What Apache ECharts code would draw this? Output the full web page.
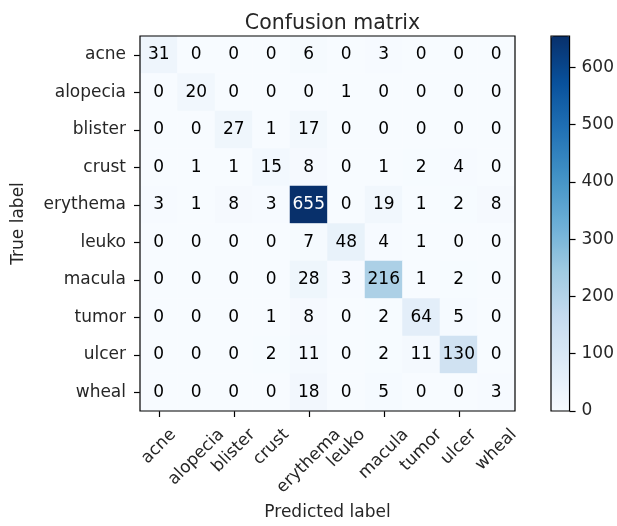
<!DOCTYPE html>
<html>
<head>
<meta charset="utf-8">
<script src="https://cdn.jsdelivr.net/npm/echarts@6/dist/echarts.min.js"></script>
<style>
  html, body { margin: 0; padding: 0; background: #fff; }
  #chart { width: 617px; height: 526px; }
</style>
</head>
<body>
<div id="chart"></div>
<script>
// Class names, shared by both axes
const labels = ['acne', 'alopecia', 'blister', 'crust', 'erythema', 'leuko', 'macula', 'tumor', 'ulcer', 'wheal'];

// One row per true label, one column per predicted label
const acne     = [31, 0, 0, 0, 6, 0, 3, 0, 0, 0];
const alopecia = [0, 20, 0, 0, 0, 1, 0, 0, 0, 0];
const blister  = [0, 0, 27, 1, 17, 0, 0, 0, 0, 0];
const crust    = [0, 1, 1, 15, 8, 0, 1, 2, 4, 0];
const erythema = [3, 1, 8, 3, 655, 0, 19, 1, 2, 8];
const leuko    = [0, 0, 0, 0, 7, 48, 4, 1, 0, 0];
const macula   = [0, 0, 0, 0, 28, 3, 216, 1, 2, 0];
const tumor    = [0, 0, 0, 1, 8, 0, 2, 64, 5, 0];
const ulcer    = [0, 0, 0, 2, 11, 0, 2, 11, 130, 0];
const wheal    = [0, 0, 0, 0, 18, 0, 5, 0, 0, 3];
const rows = [acne, alopecia, blister, crust, erythema, leuko, macula, tumor, ulcer, wheal];

// Colour bar ticks
const colorbarTicks = [0, 100, 200, 300, 400, 500, 600];

// matplotlib "Blues" colormap stops
const blues = ['#f7fbff', '#deebf7', '#c6dbef', '#9ecae1', '#6baed6', '#4292c6', '#2171b5', '#08519c', '#08306b'];

const FONT = 'DejaVu Sans';
const TEXT = '#262626';
const FS = 17;

let vmax = 0;
rows.forEach(r => r.forEach(v => { if (v > vmax) vmax = v; }));
const thresh = vmax / 2;

const cells = [];
rows.forEach((r, yi) => r.forEach((v, xi) => {
  cells.push({
    value: [xi, yi, v],
    label: { color: v > thresh ? '#ffffff' : '#000000' }
  });
}));

// Measure text for rotated, centred tick labels
const measureCtx = document.createElement('canvas').getContext('2d');
measureCtx.font = FS + 'px "' + FONT + '"';

const chart = echarts.init(document.getElementById('chart'), null, { renderer: 'canvas' });

chart.setOption({
  animation: false,
  backgroundColor: '#ffffff',
  title: {
    text: 'Confusion matrix',
    left: 327.5,
    top: 8,
    textAlign: 'center',
    textStyle: { fontFamily: FONT, fontSize: 20.5, fontWeight: 'normal', color: TEXT }
  },
  grid: [
    { left: 140, top: 36, width: 375, height: 375, show: true, z: 5,
      backgroundColor: 'transparent', borderColor: '#000', borderWidth: 1.2 },
    { left: 551, top: 36, width: 19, height: 375, show: true, z: 5,
      backgroundColor: 'transparent', borderColor: '#000', borderWidth: 1.2 }
  ],
  xAxis: [
    {
      gridIndex: 0, type: 'category', data: labels, position: 'bottom',
      axisLine: { show: false },
      axisTick: { show: true, alignWithLabel: true, length: 6, lineStyle: { color: '#000', width: 1.2 } },
      axisLabel: { show: false },
      splitLine: { show: false },
      name: 'Predicted label', nameLocation: 'middle', nameGap: 93,
      nameTextStyle: { fontFamily: FONT, fontSize: FS, color: TEXT }
    },
    {
      gridIndex: 1, type: 'category', data: [''], show: false
    }
  ],
  yAxis: [
    {
      gridIndex: 0, type: 'category', data: labels, inverse: true,
      axisLine: { show: false },
      axisTick: { show: true, alignWithLabel: true, length: 6, lineStyle: { color: '#000', width: 1.2 } },
      axisLabel: { margin: 14, fontFamily: FONT, fontSize: FS, color: TEXT },
      splitLine: { show: false },
      name: 'True label', nameLocation: 'middle', nameGap: 113, nameRotate: 90,
      nameTextStyle: { fontFamily: FONT, fontSize: FS, color: TEXT }
    },
    {
      gridIndex: 1, type: 'value', min: 0, max: vmax, position: 'right',
      axisLine: { show: false },
      axisTick: { show: true, length: 6, customValues: colorbarTicks, lineStyle: { color: '#000', width: 1.2 } },
      axisLabel: { margin: 12, customValues: colorbarTicks, fontFamily: FONT, fontSize: FS, color: TEXT },
      splitLine: { show: false }
    }
  ],
  visualMap: {
    type: 'continuous',
    min: 0, max: vmax,
    seriesIndex: 0,
    calculable: false,
    hoverLink: false,
    orient: 'vertical',
    left: 551, top: 36,
    itemWidth: 19, itemHeight: 375,
    padding: 0,
    text: null,
    inRange: { color: blues }
  },
  series: [
    {
      type: 'heatmap',
      xAxisIndex: 0, yAxisIndex: 0,
      data: cells,
      label: { show: true, fontFamily: FONT, fontSize: FS, formatter: p => String(p.value[2]) },
      emphasis: { disabled: true },
      silent: true
    },
    {
      // Rotated column labels, centred under each tick like matplotlib
      type: 'custom',
      xAxisIndex: 0, yAxisIndex: 0,
      data: labels.map((_, i) => [i, 0]),
      clip: false,
      silent: true,
      z: 10,
      renderItem: (params, api) => {
        const i = api.value(0);
        const txt = labels[i];
        const cx = api.coord([i, 0])[0];
        const bottom = params.coordSys.y + params.coordSys.height;
        const w = measureCtx.measureText(txt).width;
        const h = FS * 1.17;
        const half = (w + h) * Math.SQRT1_2 / 2;
        return {
          type: 'text',
          x: cx,
          y: bottom + 14 + half,
          rotation: Math.PI / 4,
          style: {
            text: txt,
            fontFamily: FONT, fontSize: FS,
            fill: TEXT,
            align: 'center', verticalAlign: 'middle'
          }
        };
      }
    }
  ]
});
</script>
</body>
</html>
